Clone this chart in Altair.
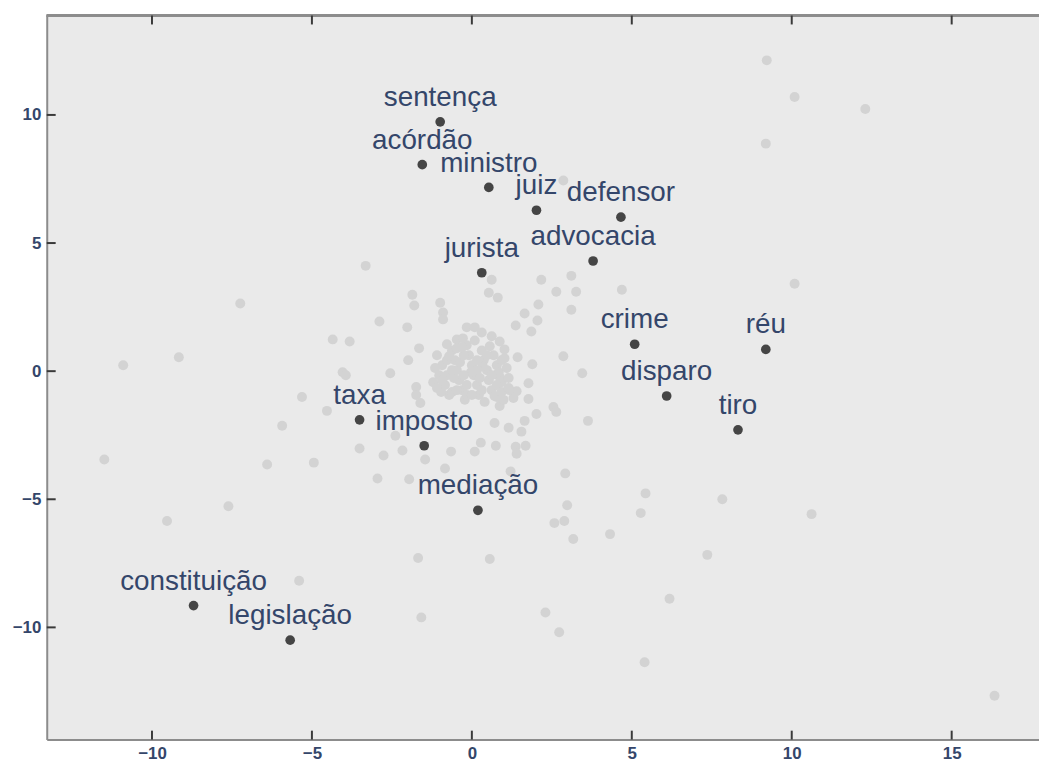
import altair as alt
import pandas as pd

# Highlighted words (data coordinates)
words = ["sentença", "acórdão", "ministro", "juiz", "defensor", "advocacia", "jurista",
         "crime", "réu", "disparo", "tiro", "taxa", "imposto", "mediação",
         "constituição", "legislação"]
word_x = [-0.99, -1.55, 0.53, 2.02, 4.66, 3.79, 0.31,
          5.09, 9.19, 6.09, 8.32, -3.51, -1.49, 0.19,
          -8.70, -5.68]
word_y = [9.73, 8.06, 7.17, 6.28, 6.01, 4.30, 3.84,
          1.05, 0.85, -0.97, -2.29, -1.90, -2.91, -5.43,
          -9.15, -10.50]

# Background (unlabelled) words
bg_x = [9.22, 10.09, 12.30, 9.19, 2.86, 10.09, -3.32, -7.24, -10.90, -9.16,
        -11.49, -9.53, -7.61, -6.40, -4.94, -5.93, -5.31, -4.53, -5.40, -1.68,
        -1.58, 0.56, 2.30, 2.73, 5.40, 16.34, 6.18, 7.36, 7.83, 5.43,
        5.28, 4.32, 3.17, 2.58, 2.89, 2.98, 10.62, 2.92, 3.63, 3.45,
        4.69, -2.89, -4.35, -3.82, -4.04, -3.94, -2.55, -3.51, -2.76, -2.17,
        -2.95, -1.96, -2.39, -1.46, -0.65, -0.84, 0.09, 0.28, 0.75, 1.37,
        1.68, 1.40, 1.21, 0.71, 1.15, 1.55, 1.65, 2.02, 2.55, 2.64,
        1.77, 1.77, 1.40, 1.30, 0.87, 0.78, 1.89, 1.43, 2.86, 0.62,
        2.17, 3.11, 2.64, 3.26, 0.53, 0.81, -1.86, -1.80, -0.99, -0.90,
        -0.90, 2.08, 3.11, 1.65, 2.05, -2.02, 1.37, 1.86, -1.65, -1.99,
        -1.74, -1.74, -1.61, 1.02, 0.87, 0.62, 0.31, -0.16, 0.09, -0.47,
        -0.78, 1.18, 0.99, 0.87,
        -1.09, -0.93, -1.02, -0.84, -0.71, -0.62, -0.53, -0.47, -0.40, -0.31,
        -0.22, -0.16, -0.09, 0.00, 0.06, 0.16, 0.22, 0.31, 0.37, 0.47,
        0.53, 0.62, 0.68, 0.78, 0.84, 0.93, -0.47, -0.78, -1.15, -0.16,
        0.40, 0.09, -0.28, -0.62, 1.09, 1.02, -0.96, -1.21, 0.56, 0.25,
        -0.37, -0.03, 0.34, -0.56, 0.71, 1.15,
        -0.78, -0.62, -0.25, -0.25, 0.16, 0.16, 0.62, -0.16, 0.31, -0.47,
        -0.93, 0.47, 0.78, 0.00, -0.31, 0.93, -1.09, 1.15, 0.93, -0.71]
bg_y = [12.13, 10.70, 10.23, 8.88, 7.44, 3.41, 4.11, 2.64, 0.23, 0.54,
        -3.45, -5.85, -5.27, -3.64, -3.57, -2.13, -1.01, -1.55, -8.18, -7.29,
        -9.61, -7.33, -9.42, -10.19, -11.36, -12.67, -8.88, -7.17, -5.00, -4.77,
        -5.54, -6.36, -6.55, -5.93, -5.85, -5.23, -5.58, -3.99, -1.94, -0.08,
        3.18, 1.94, 1.24, 1.16, -0.04, -0.16, -0.08, -3.02, -3.29, -3.10,
        -4.19, -4.22, -2.52, -3.45, -3.14, -3.80, -3.14, -2.79, -2.91, -2.95,
        -2.91, -3.22, -3.91, -2.02, -2.21, -2.36, -1.94, -1.67, -1.40, -1.59,
        -1.09, -0.47, -0.78, -1.05, -1.36, -1.01, 0.27, 0.54, 0.58, 3.57,
        3.57, 3.72, 3.10, 3.10, 3.06, 2.87, 2.98, 2.56, 2.67, 2.29,
        2.02, 2.60, 2.40, 2.25, 1.98, 1.71, 1.78, 1.55, 0.89, 0.43,
        -0.62, -0.93, -1.24, 0.85, 1.16, 1.36, 1.51, 1.71, 1.71, 1.24,
        1.05, -0.74, -1.12, -0.23,
        0.62, 0.23, -0.16, -0.54, -0.93, 0.81, 0.43, 0.04, -0.35, -0.74,
        -1.12, 1.01, 0.62, 0.23, -0.16, -0.54, -0.93, 0.81, 0.43, 0.04,
        -0.35, -0.74, 0.62, 0.23, -0.04, -0.43, 0.89, -0.16, 0.12, -0.93,
        -1.20, 1.20, 1.28, -0.81, 0.12, 0.50, -0.81, -0.43, 0.97, -0.27,
        0.35, -0.04, 0.19, -0.27, -0.97, -0.27,
        0.43, 0.04, 0.62, -0.16, 0.43, 0.04, -0.16, -0.54, -0.74, -0.74,
        -0.35, 0.62, -0.54, -0.93, 0.93, -0.81, -0.66, -0.66, 0.43, 0.58]

x_ticks = [-10, -5, 0, 5, 10, 15]
y_ticks = [-10, -5, 0, 5, 10]

bg = pd.DataFrame({"x": bg_x, "y": bg_y})
hl = pd.DataFrame({"word": words, "x": word_x, "y": word_y})
xt = pd.DataFrame({"v": x_ticks})
yt = pd.DataFrame({"v": y_ticks})

W, H = 999, 729
TXT = "#34466a"
FRAME = "#8c8c8c"
TICK = "#3a3a3a"
FONT = "Liberation Sans"

xs = alt.Scale(domain=[-13.29, 17.73], nice=False, zero=False)
ys = alt.Scale(domain=[-14.38, 13.88], nice=False, zero=False)

# inward tick marks along the frame (drawn first, as in a plain layered chart)
top_ticks = alt.Chart(xt).mark_rule(color=TICK, strokeWidth=2).encode(
    x=alt.X("v:Q", scale=xs, axis=alt.Axis(values=x_ticks, title=None)),
    y=alt.value(0), y2=alt.value(9)
)
bottom_ticks = alt.Chart(xt).mark_rule(color=TICK, strokeWidth=2).encode(
    x=alt.X("v:Q", scale=xs), y=alt.value(H - 9), y2=alt.value(H)
)
left_ticks = alt.Chart(yt).mark_rule(color=TICK, strokeWidth=2).encode(
    y=alt.Y("v:Q", scale=ys, axis=alt.Axis(values=y_ticks, title=None)),
    x=alt.value(0), x2=alt.value(9)
)
top_frame = alt.Chart(xt).mark_rule(color=FRAME, strokeWidth=2).encode(
    x=alt.value(0), x2=alt.value(W), y=alt.value(0)
)

gray = alt.Chart(bg).mark_circle(color="#d3d3d3", opacity=1, size=100).encode(
    x=alt.X("x:Q", scale=xs),
    y=alt.Y("y:Q", scale=ys),
)

dark = alt.Chart(hl).mark_circle(color="#454545", opacity=1, size=95).encode(
    x=alt.X("x:Q", scale=xs),
    y=alt.Y("y:Q", scale=ys),
)

text = alt.Chart(hl).mark_text(
    font=FONT, fontSize=28, color=TXT, align="center", baseline="alphabetic", dy=-16
).encode(
    x=alt.X("x:Q", scale=xs),
    y=alt.Y("y:Q", scale=ys),
    text="word:N",
)

chart = alt.layer(gray, dark, text, top_frame, top_ticks, bottom_ticks, left_ticks).properties(
    width=W,
    height=H,
    autosize=alt.AutoSizeParams(type="none"),
    padding={"left": 39, "top": 5, "right": 0, "bottom": 24},
).configure_view(
    fill="#eaeaea", stroke=None
).configure_axis(
    labelFont=FONT, labelFontWeight="bold", labelFontSize=17, labelColor=TXT,
    labelPadding=6, grid=False, ticks=False, domainColor=FRAME, domainWidth=2,
    format="d"
)

chart.save("out.html", embed_options={"renderer": "svg", "actions": False})
